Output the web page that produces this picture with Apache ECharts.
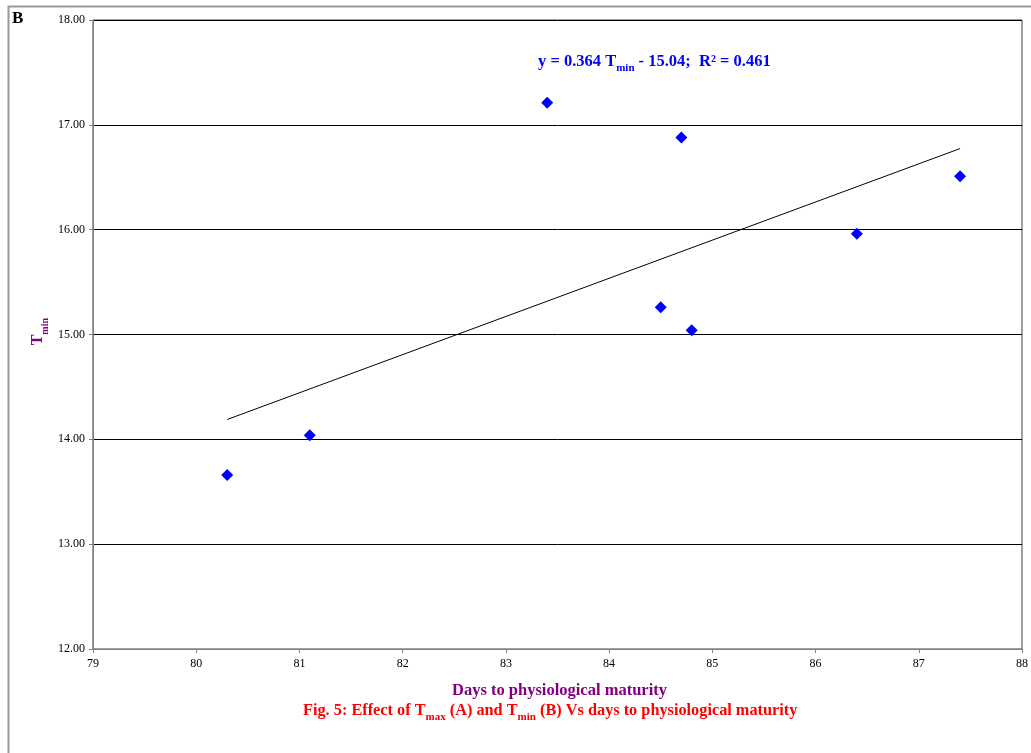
<!DOCTYPE html>
<html>
<head>
<meta charset="utf-8">
<script src="https://cdn.jsdelivr.net/npm/echarts@6/dist/echarts.min.js"></script>
<style>
  html, body { margin: 0; padding: 0; background: #fff; }
  #chart { width: 1031px; height: 753px; }
</style>
</head>
<body>
<div id="chart"></div>
<script>
// 数据：成熟天数 与 最低温度
var days = [80.3, 81.1, 83.4, 84.5, 84.7, 84.8, 86.4, 87.4];
var tmin = [13.66, 14.04, 17.21, 15.26, 16.88, 15.04, 15.96, 16.51];
var xTicks = [79, 80, 81, 82, 83, 84, 85, 86, 87, 88];
var yTicks = [12, 13, 14, 15, 16, 17, 18];
// 趋势线 y = 0.364x - 15.04
var slope = 0.364, intercept = -15.04;
var trendX = [80.3, 87.4];

var serif = 'Liberation Serif';
var chart = echarts.init(document.getElementById('chart'));

var points = days.map(function (d, i) { return [d, tmin[i]]; });
var trend = trendX.map(function (x) { return [x, slope * x + intercept]; });

// 富文本样式：正文 + 下标
function richPair(size, color) {
  return {
    m: { fontFamily: serif, fontWeight: 'bold', fontSize: size, fill: color, lineHeight: 18, verticalAlign: 'bottom' },
    s: { fontFamily: serif, fontWeight: 'bold', fontSize: Math.round(size * 0.65), fill: color, lineHeight: 12, verticalAlign: 'bottom', padding: [0, 0, -4, 0] }
  };
}

var option = {
  animation: false,
  textStyle: { fontFamily: serif },
  grid: {
    left: 93, right: 7, top: 20, bottom: 104,
    show: true, borderColor: '#404040', borderWidth: 1
  },
  xAxis: {
    type: 'value',
    min: xTicks[0], max: xTicks[xTicks.length - 1], interval: 1,
    axisLine: { lineStyle: { color: '#808080' } },
    axisTick: { show: true, length: 4, lineStyle: { color: '#808080' } },
    axisLabel: { color: '#000', fontSize: 12, fontFamily: serif, margin: 9 },
    splitLine: { show: false }
  },
  yAxis: {
    type: 'value',
    min: yTicks[0], max: yTicks[yTicks.length - 1], interval: 1,
    axisLine: { show: true, lineStyle: { color: '#808080' } },
    axisTick: { show: true, length: 4, lineStyle: { color: '#808080' } },
    axisLabel: {
      color: '#000', fontSize: 12, fontFamily: serif, margin: 8,
      formatter: function (v) { return v.toFixed(2); }
    },
    splitLine: { show: true, lineStyle: { color: '#000', width: 1 } }
  },
  series: [
    {
      type: 'line',
      data: trend,
      symbol: 'none',
      lineStyle: { color: '#000', width: 1 },
      z: 2
    },
    {
      type: 'scatter',
      data: points,
      symbol: 'diamond',
      symbolSize: 12,
      itemStyle: { color: '#0000ff', opacity: 1 },
      z: 3
    }
  ],
  graphic: [
    {
      type: 'rect', silent: true, z: -1,
      shape: { x: 8.5, y: 6.5, width: 1030, height: 760 },
      style: { fill: 'none', stroke: '#9a9a9a', lineWidth: 2 }
    },
    {
      type: 'text', left: 12, top: 10,
      style: { text: 'B', fontFamily: serif, fontWeight: 'bold', fontSize: 17, fill: '#000' }
    },
    {
      type: 'text', left: 538, top: 53,
      style: {
        text: '{m|y = 0.364 T}{s|min}{m| - 15.04;  R² = 0.461}',
        rich: richPair(16.5, '#0000ff')
      }
    },
    {
      type: 'text', left: 452, top: 682,
      style: { text: 'Days to physiological maturity', fontFamily: serif, fontWeight: 'bold', fontSize: 16.5, fill: '#800080' }
    },
    {
      type: 'text', left: 303, top: 703,
      style: {
        text: '{m|Fig. 5: Effect of T}{s|max}{m| (A) and T}{s|min}{m| (B) Vs days to physiological maturity}',
        rich: richPair(16.3, '#ff0000')
      }
    },
    {
      type: 'text', left: 30, top: 318, rotation: Math.PI / 2,
      style: {
        text: '{m|T}{s|min}',
        rich: richPair(16, '#800080')
      }
    }
  ]
};

chart.setOption(option);
</script>
</body>
</html>
